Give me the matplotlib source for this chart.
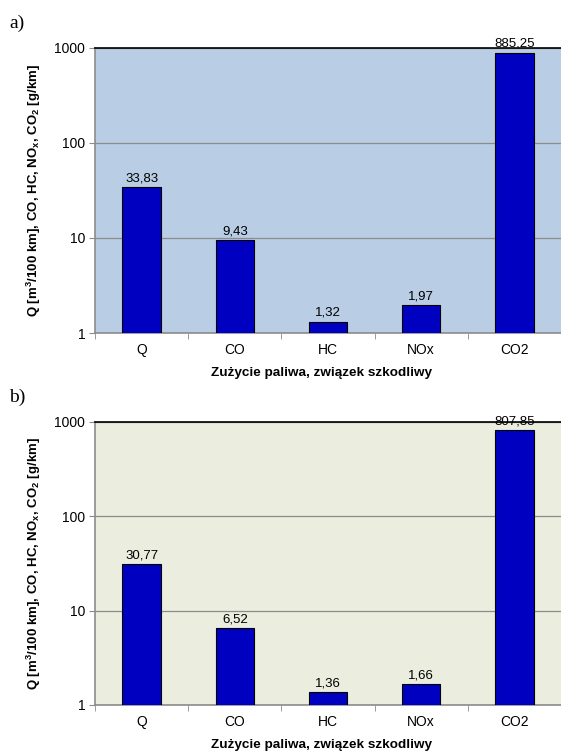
import numpy as np
import matplotlib.pyplot as plt

plt.rcParams['font.family'] = ['Liberation Sans', 'DejaVu Sans']
plt.rcParams['mathtext.fontset'] = 'custom'
plt.rcParams['mathtext.rm'] = 'Liberation Sans'
plt.rcParams['mathtext.bf'] = 'Liberation Sans:bold'

categories = ['Q', 'CO', 'HC', 'NOx', 'CO2']
values_a = [33.83, 9.43, 1.32, 1.97, 885.25]
values_b = [30.77, 6.52, 1.36, 1.66, 807.85]
panel_labels = ['a)', 'b)']
bg_colors = ['#B9CDE5', '#EBEDDF']

ylabel = (r'Q [m$^{\mathbf{3}}$/100 km], CO, HC, NO$_{\mathbf{x}}$, '
          r'CO$_{\mathbf{2}}$ [g/km]')
xlabel = 'Zużycie paliwa, związek szkodliwy'

fig = plt.figure(figsize=(5.61, 7.54), dpi=100)

W, H = 561, 754
# left, top, bottom of plot area and y of panel letter (pixels)
boxes = [(95, 47.5, 333, 23), (95, 421.5, 705, 397)]


def draw_panel(ax, values, bg, h_px):
    x = np.arange(len(categories))
    ax.set_facecolor(bg)
    ax.bar(x, values, width=0.41, color='#0000C0', edgecolor='black',
           linewidth=0.8, zorder=3, bottom=0)
    ax.set_yscale('log')
    ax.set_ylim(1, 1000)
    ax.set_xlim(-0.5, 4.48)
    ax.set_yticks([1, 10, 100, 1000])
    ax.set_yticklabels(['1', '10', '100', '1000'])
    ax.minorticks_off()
    ax.yaxis.grid(True, color='#8C8C8C', linewidth=0.9, zorder=1)
    ax.set_xticks(x)
    ax.set_xticklabels(categories)
    ax.set_xticks(np.arange(-0.5, 5, 1), minor=True)
    ax.tick_params(axis='x', which='major', length=0, pad=7, labelsize=10)
    ax.tick_params(axis='x', which='minor', length=4, color='#8C8C8C')
    ax.tick_params(axis='y', length=4, color='#8C8C8C', labelsize=10, pad=3)
    for s in ['left', 'bottom']:
        ax.spines[s].set_color('#8C8C8C')
        ax.spines[s].set_linewidth(1.2)
    ax.spines['top'].set_color('black')
    ax.spines['top'].set_linewidth(1.2)
    ax.spines['right'].set_visible(False)
    for xi, v in zip(x, values):
        ax.annotate(f'{v:.2f}'.replace('.', ','), (xi, v),
                    xytext=(0, 2), textcoords='offset points',
                    ha='center', va='bottom', fontsize=9.5, zorder=4)
    ax.set_xlabel(xlabel, fontweight='bold', fontsize=9.7, va='center')
    ax.xaxis.set_label_coords(0.485, -40 / h_px)
    ax.set_ylabel(ylabel, fontweight='bold', fontsize=9.5, labelpad=8)


for (left, top, bottom, ly), vals, bg, lab in zip(boxes, [values_a, values_b],
                                                  bg_colors, panel_labels):
    ax = fig.add_axes([left / W, 1 - bottom / H, (W - left) / W,
                       (bottom - top) / H])
    draw_panel(ax, vals, bg, bottom - top)
    fig.text(9 / W, 1 - ly / H, lab, family='Liberation Serif',
             fontsize=14, ha='left', va='center')

fig.savefig('out.png', dpi=100)
